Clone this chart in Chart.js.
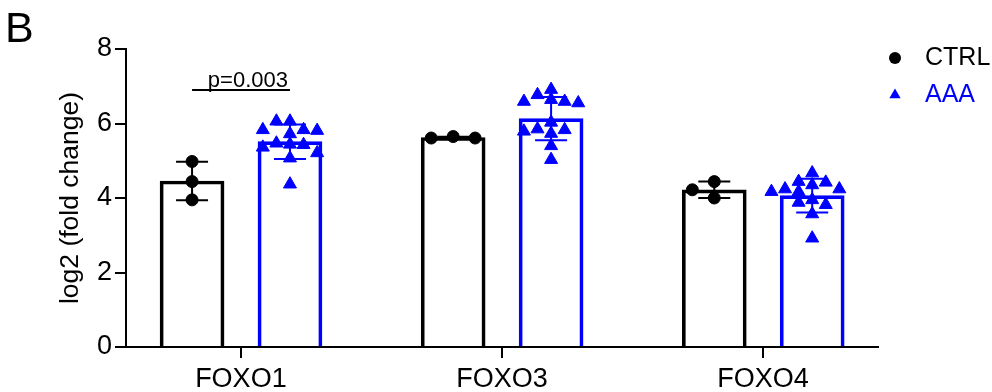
<!DOCTYPE html>
<html>
<head>
<meta charset="utf-8">
<script src="https://cdn.jsdelivr.net/npm/chart.js@4/dist/chart.umd.min.js"></script>
<style>
  html, body { margin: 0; padding: 0; background: #fff; }
  canvas { display: block; }
</style>
</head>
<body>
<canvas id="chart" width="992" height="392"></canvas>
<script>
// genes on the x axis
const genes = ["FOXO1", "FOXO3", "FOXO4"];
const yTicks = [0, 2, 4, 6, 8];

// log2 (fold change) per sample
const ctrlFoxo1 = [4.98, 4.44, 3.95];
const ctrlFoxo3 = [5.61, 5.65, 5.61];
const ctrlFoxo4 = [4.44, 4.22, 4.00];

const aaaFoxo1 = [6.06, 6.06, 5.83, 5.83, 5.81, 5.72, 5.47, 5.44, 5.43, 5.36, 5.21, 5.07, 4.37];
const aaaFoxo3 = [6.91, 6.77, 6.64, 6.59, 6.59, 6.55, 6.03, 5.85, 5.83, 5.79, 5.73, 5.40, 5.03];
const aaaFoxo4 = [4.67, 4.44, 4.42, 4.35, 4.24, 4.24, 4.17, 4.17, 3.95, 3.88, 3.82, 3.57, 2.92];

// significance bracket
const pText = "p=0.003";
const pGene = 0;
const pLevel = 6.9;

const FONT = "'Liberation Sans', Arial, sans-serif";

const groups = [
  { label: "CTRL", color: "#000000", shape: "circle", radius: 6,
    samples: [ctrlFoxo1, ctrlFoxo3, ctrlFoxo4], shift: -0.187, step: 0.084, minGap: 0.32 },
  { label: "AAA", color: "#0000ff", shape: "triangle", radius: 7.5,
    samples: [aaaFoxo1, aaaFoxo3, aaaFoxo4], shift: 0.188, step: 0.052, minGap: 0.27 }
];

function mean(a) { return a.reduce((s, v) => s + v, 0) / a.length; }
function sd(a) {
  const m = mean(a);
  return Math.sqrt(a.reduce((s, v) => s + (v - m) * (v - m), 0) / (a.length - 1));
}

// simple beeswarm: highest value first, nearest free column
function swarm(values, step, minGap) {
  const placed = [];
  const out = new Array(values.length);
  const order = values.map((v, i) => i).sort((a, b) => values[b] - values[a]);
  order.forEach(i => {
    const v = values[i];
    for (let k = 0; k < 30; k++) {
      const col = k === 0 ? 0 : (k % 2 ? -Math.ceil(k / 2) : k / 2);
      if (!placed.some(p => p.col === col && Math.abs(p.v - v) < minGap)) {
        placed.push({ col, v });
        out[i] = col * step;
        break;
      }
    }
  });
  return out;
}

const datasets = [];
groups.forEach((g, gi) => {
  datasets.push({
    type: "bar",
    label: g.label,
    data: genes.map((name, i) => ({ x: i + g.shift, y: mean(g.samples[i]) })),
    backgroundColor: "rgba(255,255,255,0)",
    borderColor: g.color,
    borderWidth: 3,
    barThickness: 64,
    grouped: false,
    order: 3,
    groupIndex: gi
  });
});
groups.forEach(g => {
  const pts = [];
  g.samples.forEach((vals, i) => {
    const jit = swarm(vals, g.step, g.minGap);
    vals.forEach((v, j) => pts.push({ x: i + g.shift + jit[j], y: v }));
  });
  datasets.push({
    type: "scatter",
    label: g.label,
    data: pts,
    pointStyle: g.shape,
    radius: g.radius,
    backgroundColor: g.color,
    borderColor: g.color,
    borderWidth: 1,
    order: 1
  });
});

const errorBars = {
  id: "errorBars",
  afterDatasetDraw(chart, args) {
    const ds = chart.data.datasets[args.index];
    if (ds.type !== "bar") return;
    const g = groups[ds.groupIndex];
    const { ctx, scales: { x, y } } = chart;
    ctx.save();
    ctx.strokeStyle = g.color;
    ctx.lineWidth = 2;
    g.samples.forEach((vals, i) => {
      const m = mean(vals), s = sd(vals);
      const px = x.getPixelForValue(i + g.shift);
      const top = y.getPixelForValue(m + s), bot = y.getPixelForValue(m - s);
      ctx.beginPath();
      ctx.moveTo(px, top); ctx.lineTo(px, bot);
      ctx.moveTo(px - 16, top); ctx.lineTo(px + 16, top);
      ctx.moveTo(px - 16, bot); ctx.lineTo(px + 16, bot);
      ctx.stroke();
    });
    ctx.restore();
  }
};

const extras = {
  id: "extras",
  afterDraw(chart) {
    const { ctx, scales: { x, y } } = chart;
    ctx.save();
    // panel letter
    ctx.fillStyle = "#000";
    ctx.font = "43px " + FONT;
    ctx.textAlign = "left";
    ctx.textBaseline = "alphabetic";
    ctx.fillText("B", 5, 42);

    // p-value bracket
    const x1 = x.getPixelForValue(pGene + groups[0].shift);
    const x2 = x.getPixelForValue(pGene + groups[1].shift);
    const py = y.getPixelForValue(pLevel);
    ctx.strokeStyle = "#000";
    ctx.lineWidth = 2;
    ctx.beginPath();
    ctx.moveTo(x1, py); ctx.lineTo(x2, py);
    ctx.stroke();
    ctx.font = "22px " + FONT;
    ctx.textAlign = "right";
    ctx.fillText(pText, x2 - 2, py - 3);

    // legend
    const lx = 895, rows = [58, 95];
    groups.forEach((g, i) => {
      const ly = rows[i];
      ctx.fillStyle = g.color;
      ctx.beginPath();
      if (g.shape === "circle") {
        ctx.arc(lx, ly, 6, 0, Math.PI * 2);
      } else {
        const r = 6.5;
        ctx.moveTo(lx, ly - r);
        ctx.lineTo(lx + r * 0.866, ly + r / 2);
        ctx.lineTo(lx - r * 0.866, ly + r / 2);
        ctx.closePath();
      }
      ctx.fill();
      ctx.font = "25px " + FONT;
      ctx.textAlign = "left";
      ctx.textBaseline = "middle";
      ctx.fillText(g.label, 925, ly);
    });
    ctx.restore();
  }
};

new Chart(document.getElementById("chart"), {
  type: "bar",
  data: { datasets },
  options: {
    responsive: false,
    animation: false,
    devicePixelRatio: 1,
    layout: { padding: { top: 49, right: 114, left: 0, bottom: 0 } },
    plugins: { legend: { display: false }, tooltip: { enabled: false } },
    scales: {
      x: {
        type: "linear",
        min: -0.44,
        max: 2.44,
        offset: false,
        afterBuildTicks: s => { s.ticks = genes.map((g, i) => ({ value: i })); },
        afterFit: s => { s.height = 45; },
        ticks: {
          autoSkip: false,
          callback: v => genes[v] || "",
          color: "#000",
          font: { family: FONT, size: 27 },
          padding: 5,
          maxRotation: 0
        },
        grid: { offset: false, drawOnChartArea: false, drawTicks: true, tickLength: 11, color: "#000", lineWidth: 2 },
        border: { display: true, color: "#000", width: 2 }
      },
      y: {
        type: "linear",
        min: 0,
        max: 8,
        afterBuildTicks: s => { s.ticks = yTicks.map(v => ({ value: v })); },
        afterFit: s => { s.width = 126; },
        ticks: {
          color: "#000",
          font: { family: FONT, size: 27 },
          padding: 3
        },
        grid: { drawOnChartArea: false, drawTicks: true, tickLength: 11, color: "#000", lineWidth: 2 },
        border: { display: true, color: "#000", width: 2 },
        title: {
          display: true,
          text: "log2 (fold change)",
          color: "#000",
          font: { family: FONT, size: 26.5 },
          padding: { top: 55, bottom: 0 }
        }
      }
    }
  },
  plugins: [errorBars, extras]
});
</script>
</body>
</html>
